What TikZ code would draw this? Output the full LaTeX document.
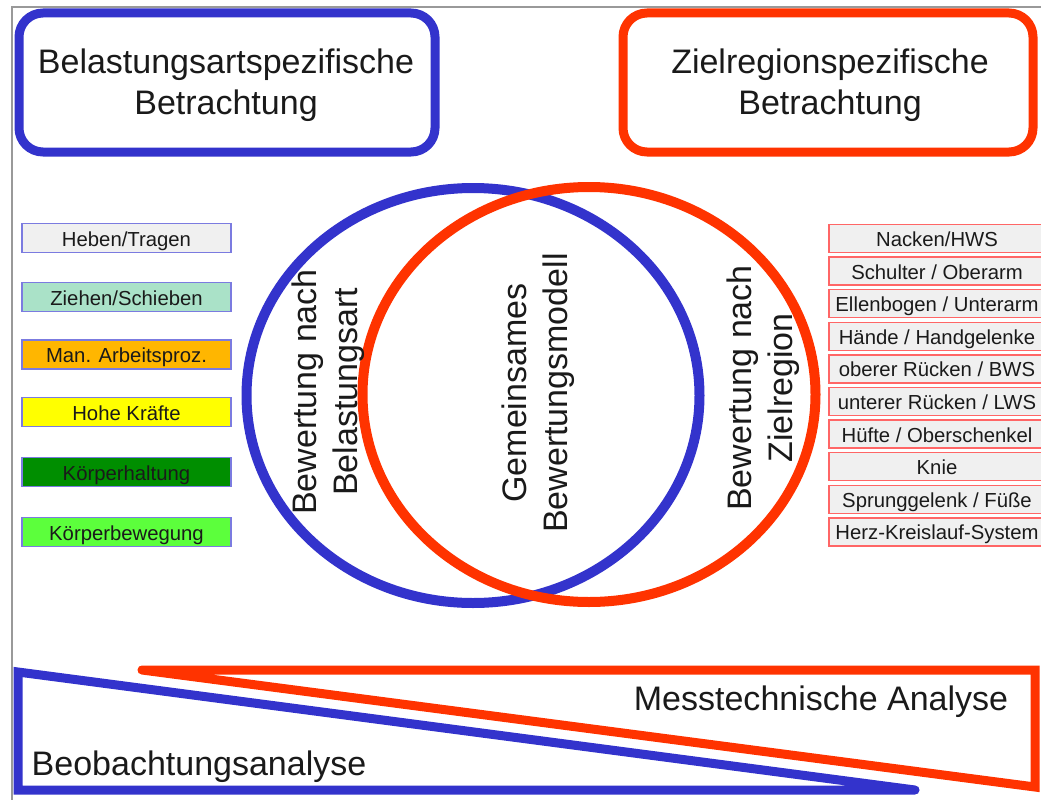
\documentclass[tikz,border=0pt]{standalone}
\usepackage{fontspec}
\setmainfont{Liberation Sans}
\usetikzlibrary{shapes.geometric}
\definecolor{myblue}{HTML}{3333CC}
\definecolor{myred}{HTML}{FF3300}
\definecolor{lboxline}{HTML}{7B7BE0}
\definecolor{rboxline}{HTML}{FF6666}
\definecolor{boxgray}{HTML}{F0F0F0}
\definecolor{cziehen}{HTML}{AAE2C8}
\definecolor{cman}{HTML}{FFB600}
\definecolor{chohe}{HTML}{FFFF00}
\definecolor{chaltung}{HTML}{008E00}
\definecolor{cbeweg}{HTML}{5CFF3C}
\definecolor{txt}{HTML}{1A1A1A}
\begin{document}
\begin{tikzpicture}[x=1pt,y=-1pt,
  titlebox/.style={draw, line width=9pt, rounded corners=24pt, inner sep=0pt,
    align=center, text=txt},
  titletext/.style={align=center, inner sep=0pt, text=txt,
    font=\fontsize{34}{41}\selectfont},
  ring/.style={draw, ellipse, line width=10pt, inner sep=0pt,
    minimum width=453pt, minimum height=415pt},
  vtext/.style={rotate=90, align=center, inner sep=0pt, text=txt,
    font=\fontsize{34}{41}\selectfont},
  bigtext/.style={anchor=base, inner sep=0pt, text=txt, font=\fontsize{34}{38}\selectfont},
  lbox/.style={draw=lboxline, line width=1.5pt, inner sep=0pt, text=txt,
    minimum width=209pt, minimum height=29pt, text height=17pt, text depth=1pt,
    font=\fontsize{20.3}{23}\selectfont},
  rbox/.style={draw=rboxline, line width=1.5pt, fill=boxgray, inner sep=0pt, text=txt,
    minimum width=216pt, minimum height=28pt, text height=17pt, text depth=1pt,
    font=\fontsize{20.3}{23}\selectfont},
  wedge/.style={line width=9pt, line cap=round, line join=miter}
]
\useasboundingbox (0,0) rectangle (1041,800);
\fill[white] (0,0) rectangle (1041,800);
\draw[gray!80, line width=1.5pt] (12,800) -- (12,7) -- (1041,7);

% title boxes
\node[titlebox, draw=myblue, minimum width=416pt, minimum height=139pt] (tb) at (227,82.5) {};
\node[titletext] (tbt) at (226,85) {Belastungsartspezifische\\Betrachtung};
\node[titlebox, draw=myred, minimum width=410pt, minimum height=139pt] (tr) at (828,82.5) {};
\node[titletext] (trt) at (830,85) {Zielregionspezifische\\Betrachtung};

% Venn rings
\node[ring, draw=myblue] (cb) at (473,395.5) {};
\node[ring, draw=myred] (cr) at (589,394.5) {};

\node[vtext] (vb) at (328,392) {Bewertung nach\\Belastungsart};
\node[vtext] (vm) at (538,393) {Gemeinsames\\Bewertungsmodell};
\node[vtext] (vr) at (763,388) {Bewertung nach\\Zielregion};

% left category boxes
\node[lbox, fill=boxgray] (l1) at (126.5,238) {Heben/Tragen};
\node[lbox, fill=cziehen] (l2) at (126.5,297) {Ziehen/Schieben};
\node[lbox, fill=cman] (l3) at (126.5,354.5) {Man. Arbeitsproz.};
\node[lbox, fill=chohe] (l4) at (126.5,412) {Hohe Kräfte};
\node[lbox, fill=chaltung] (l5) at (126.5,472) {Körperhaltung};
\node[lbox, fill=cbeweg] (l6) at (126.5,532) {Körperbewegung};

% right region boxes
\node[rbox] (r1) at (937,238.5) {Nacken/HWS};
\node[rbox] (r2) at (937,271.1) {Schulter / Oberarm};
\node[rbox] (r3) at (937,303.7) {Ellenbogen / Unterarm};
\node[rbox] (r4) at (937,336.3) {Hände / Handgelenke};
\node[rbox] (r5) at (937,368.9) {oberer Rücken / BWS};
\node[rbox] (r6) at (937,401.5) {unterer Rücken / LWS};
\node[rbox] (r7) at (937,434.1) {Hüfte / Oberschenkel};
\node[rbox] (r8) at (937,466.7) {Knie};
\node[rbox] (r9) at (937,499.3) {Sprunggelenk / Füße};
\node[rbox] (r10) at (937,531.9) {Herz-Kreislauf-System};

% bottom wedges
\coordinate (bt) at (18,672);
\coordinate (bb) at (18,790);
\coordinate (bp) at (915,790);
\coordinate (rt) at (142,670);
\coordinate (rc) at (1035,670);
\coordinate (rb) at (1035,787);
\draw[wedge, myblue] (bp) -- (bb) -- (bt) -- (bp);
\draw[wedge, myred] (rt) -- (rc) -- (rb) -- (rt);

\node[bigtext] (mess) at (821,710) {Messtechnische Analyse};
\node[bigtext] (beob) at (199,775) {Beobachtungsanalyse};
\end{tikzpicture}
\end{document}
